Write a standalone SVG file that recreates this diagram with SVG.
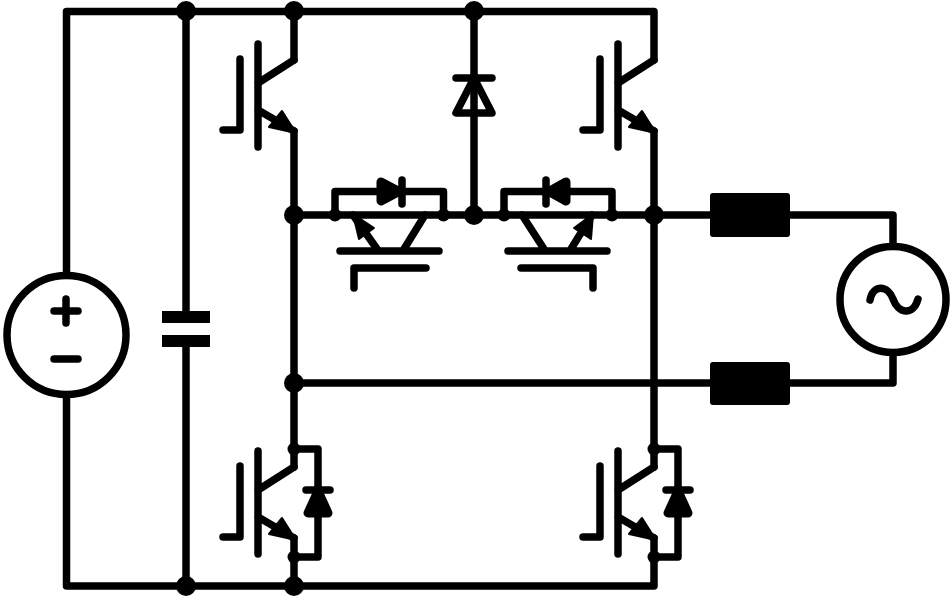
<svg xmlns="http://www.w3.org/2000/svg" width="951" height="599" viewBox="0 0 951 599">
<style>
.w{fill:none;stroke:#000;stroke-width:7.500;stroke-linecap:round;stroke-linejoin:round}
.d{fill:none;stroke:#000;stroke-width:9;stroke-linejoin:round}
.s{fill:#000;stroke:none}
.h{fill:#000;stroke:#000;stroke-width:2;stroke-linejoin:round}
.o{fill:#fff;stroke:#000;stroke-width:7.500}
</style>
<defs>
<g id="igbt">
<path class="w" d="M0 -26L-36 -3M-36 24L0 45M-36 -42V61M-54 -27V44H-71"/>
<path class="h" d="M2 47L-12 25L-25 41Z"/>
</g>
</defs>
<rect width="951" height="599" fill="#fff"/>
<g id="connectors">
<path class="w" d="M66.500 272V11.500H654V60M66.500 398V586H654V538M654 131V467M186 11.500V311M186 347V586M294 11.500V60M294 131V467M294 538V586M474 11.500V215M294 215H710M790 215H893V246M294 383H710M790 383H893V354"/>
<path class="w" d="M335 215V191.500H443.500V215M504 215V191.500H612V215"/>
<path class="w" d="M294 449H318V557H294M654 449H678V557H654"/>
</g>
<g id="dc-source">
<circle class="o" cx="66.500" cy="335" r="59.500"/>
<path class="w" d="M54 311H78M66 299V323M54 359H78"/>
</g>
<g id="capacitor">
<rect class="s" x="162" y="311" width="48" height="12"/>
<rect class="s" x="162" y="335" width="48" height="12"/>
</g>
<g id="igbt-top-left"><use href="#igbt" transform="translate(294,86)"/></g>
<g id="igbt-top-right"><use href="#igbt" transform="translate(654,86)"/></g>
<g id="igbt-bottom-left"><use href="#igbt" transform="translate(294,493)"/></g>
<g id="igbt-bottom-right"><use href="#igbt" transform="translate(654,493)"/></g>
<g id="diode-top"><path class="w" d="M456 78H492M474 78L456 113H492Z"/></g>
<g id="diode-bottom-left"><path class="w" d="M306 490H330"/><path class="d" d="M318 491L308 513H328Z"/></g>
<g id="diode-bottom-right"><path class="w" d="M666 490H690"/><path class="d" d="M678 491L668 513H688Z"/></g>
<g id="mid-left">
<path class="w" d="M402 180V204"/><path class="d" d="M381 182L399 191.500L381 201Z"/>
<path class="w" d="M340 251H439M354 288V268H426M353 215L377 249M425 215L404 249"/>
<path class="h" d="M353 214L374 228L359 239Z"/>
</g>
<g id="mid-right">
<path class="w" d="M546 180V204"/><path class="d" d="M566 182L549 191.500L566 201Z"/>
<path class="w" d="M508 251H607M593 288V268H521M522 215L544 249M592 215L571 249"/>
<path class="h" d="M593 214L574 228L591 239Z"/>
</g>
<g id="inductor-top"><rect class="s" x="710" y="193" width="80" height="44" rx="3"/></g>
<g id="inductor-bottom"><rect class="s" x="710" y="362" width="80" height="43" rx="3"/></g>
<g id="ac-source">
<circle class="o" cx="893" cy="299.500" r="53"/>
<path class="w" d="M870 300C873 284 888 285 893 299S913 317 918 299"/>
</g>
<g id="junctions">
<circle class="s" cx="186" cy="11" r="10"/>
<circle class="s" cx="294" cy="11" r="10"/>
<circle class="s" cx="474" cy="11" r="10"/>
<circle class="s" cx="294" cy="215" r="10"/>
<circle class="s" cx="474" cy="215" r="10"/>
<circle class="s" cx="654" cy="215" r="10"/>
<circle class="s" cx="294" cy="383" r="10"/>
<circle class="s" cx="186" cy="586" r="10"/>
<circle class="s" cx="294" cy="586" r="10"/>
<circle class="s" cx="335" cy="215" r="6.500"/>
<circle class="s" cx="443.500" cy="215" r="6.500"/>
<circle class="s" cx="504" cy="215" r="6.500"/>
<circle class="s" cx="612" cy="215" r="6.500"/>
<circle class="s" cx="294" cy="449" r="6.500"/>
<circle class="s" cx="294" cy="557" r="6.500"/>
<circle class="s" cx="654" cy="449" r="6.500"/>
<circle class="s" cx="654" cy="557" r="6.500"/>
</g>
</svg>
